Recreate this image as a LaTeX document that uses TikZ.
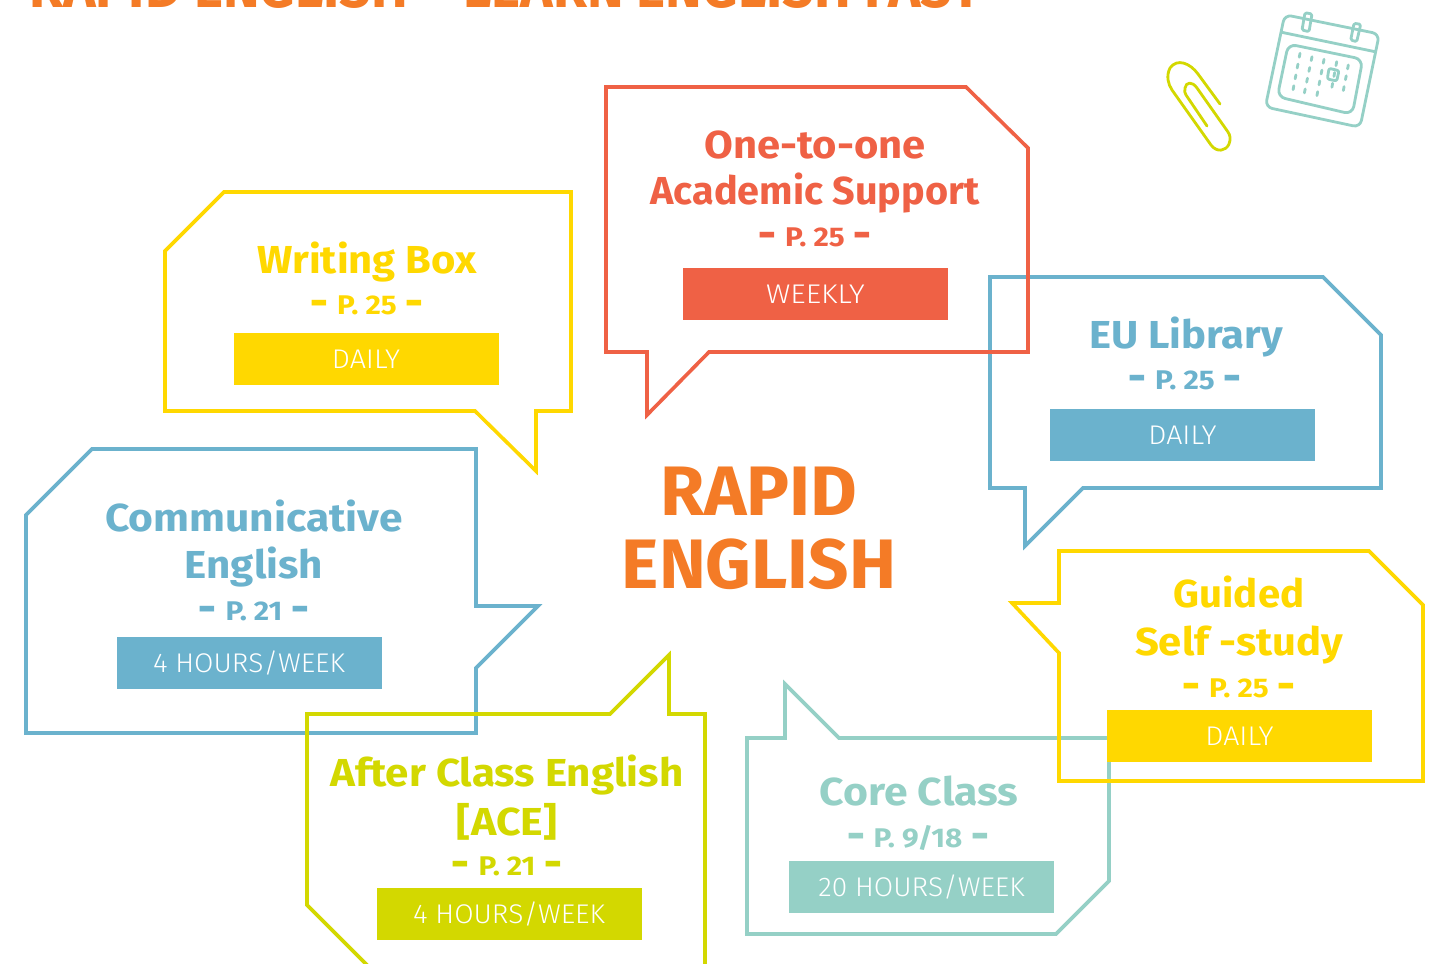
\documentclass[tikz,border=0pt]{standalone}
\usepackage{fontspec}
\setmainfont{Fira Sans}
\definecolor{cred}{HTML}{EF6145}
\definecolor{cyel}{HTML}{FFD800}
\definecolor{cblue}{HTML}{6BB2CD}
\definecolor{cteal}{HTML}{95D0C6}
\definecolor{clime}{HTML}{D3D800}
\definecolor{corange}{HTML}{F47B26}
\newcommand{\squeeze}[2]{\scalebox{#1}[1]{#2}}
\newcommand{\lightface}{\fontspec{Fira Sans Light}}
\newcommand{\prefdash}{\raisebox{-3pt}{\scalebox{1.12}[1.7]{–}}}
\newcommand{\pref}[1]{\prefdash\hspace{10pt}\squeeze{1.1}{#1}\hspace{10pt}\prefdash}
\tikzset{
  x=1pt,y=-1pt,
  bubble/.style={line width=3.6pt,line join=miter,miter limit=4},
  head/.style={font=\fontsize{39}{39}\selectfont\bfseries,inner sep=0pt,anchor=base},
  pageref/.style={font=\fontsize{27}{27}\selectfont\bfseries,inner sep=0pt,anchor=base},
  tag/.style={minimum width=265pt,minimum height=52pt,inner sep=0pt,text=white,font=\fontsize{27}{27}\selectfont\lightface},
  bigword/.style={inner sep=0pt,anchor=base,text=corange,font=\fontsize{70}{70}\selectfont\bfseries},
  iconline/.style={line width=2.8pt,line cap=round,line join=round},
  dots/.style={iconline,cteal,dash pattern=on 4pt off 7pt},
}
\begin{document}
\begin{tikzpicture}
\useasboundingbox (0,0) rectangle (1439,963);
\clip (0,0) rectangle (1439,963);
\fill[white] (0,0) rectangle (1439,963);
\node[inner sep=0pt,anchor=base west,text=corange,font=\fontsize{58}{58}\selectfont\bfseries] (title) at (29,8) {\squeeze{0.952}{RAPID ENGLISH – LEARN ENGLISH FAST}};

% bubbles
\draw[bubble,cyel] (165,251)--(224,192)--(571,192)--(571,411)--(536,411)--(536,471)--(475,411)--(165,411)--cycle;
\draw[bubble,cblue] (26,515)--(92,449)--(476,449)--(476,606)--(538,606)--(476,668)--(476,733)--(26,733)--cycle;
\draw[bubble,cteal] (747,738)--(785,738)--(785,684)--(839,738)--(1109,738)--(1109,881)--(1056,934)--(747,934)--cycle;
\draw[bubble,clime] (307,714)--(610,714)--(669,655)--(669,714)--(705,714)--(705,975)--(377,975)--(307,905)--cycle;
\draw[bubble,cblue] (990,277)--(1323,277)--(1381,335)--(1381,488)--(1083,488)--(1025,546)--(1025,488)--(990,488)--cycle;
\draw[bubble,cred] (606,87)--(966,87)--(1028,148)--(1028,352)--(709,352)--(647,415)--(647,352)--(606,352)--cycle;
\draw[bubble,cyel] (1059,551)--(1369,551)--(1423,605)--(1423,781)--(1059,781)--(1059,653)--(1012,603)--(1059,603)--cycle;

% tags
\node[tag,fill=cred] (t1) at (815.5,294) {\squeeze{1.11}{WEEKLY}};
\node[tag,fill=cyel] (t2) at (366,359) {\squeeze{1.06}{DAILY}};
\node[tag,fill=cblue] (t3) at (1182.5,435) {\squeeze{1.06}{DAILY}};
\node[tag,fill=cblue] (t4) at (249,663) {\squeeze{1.04}{4 HOURS/WEEK}};
\node[tag,fill=cyel] (t5) at (1239.5,736) {\squeeze{1.06}{DAILY}};
\node[tag,fill=cteal] (t6) at (921.5,887) {\squeeze{1.04}{20 HOURS/WEEK}};
\node[tag,fill=clime] (t7) at (509,914) {\squeeze{1.04}{4 HOURS/WEEK}};

% One-to-one
\node[head,text=cred] (a1) at (815,158) {\squeeze{1.07}{One-to-one}};
\node[head,text=cred] (a2) at (815,204.5) {\squeeze{1.015}{Academic Support}};
\node[pageref,text=cred] (a3) at (815,246) {\pref{P. 25}};
% Writing Box
\node[head,text=cyel] (b1) at (367,273) {\squeeze{1.07}{Writing Box}};
\node[pageref,text=cyel] (b2) at (367,314) {\pref{P. 25}};
% EU Library
\node[head,text=cblue] (c1) at (1186,348) {\squeeze{1.07}{EU Library}};
\node[pageref,text=cblue] (c2) at (1185,389) {\pref{P. 25}};
% Communicative
\node[head,text=cblue] (d1) at (254,531) {\squeeze{1.09}{Communicative}};
\node[head,text=cblue] (d2) at (254,578) {\squeeze{1.08}{English}};
\node[pageref,text=cblue] (d3) at (254,620) {\pref{P. 21}};
% Guided
\node[head,text=cyel] (e1) at (1239,607) {\squeeze{1.03}{Guided}};
\node[head,text=cyel] (e2) at (1239,655) {\squeeze{1.07}{Self -study}};
\node[pageref,text=cyel] (e3) at (1239,697) {\pref{P. 25}};
% Core
\node[head,text=cteal] (f1) at (919,805.5) {\squeeze{1.095}{Core Class}};
\node[pageref,text=cteal] (f2) at (918,847) {\pref{P. 9/18}};
% ACE
\node[head,text=clime] (g1) at (507,786) {\squeeze{1.08}{After Class English}};
\node[head,text=clime] (g2) at (507,835) {\squeeze{1.1}{[ACE]}};
\node[pageref,text=clime] (g3) at (507,875) {\pref{P. 21}};

% centre
\node[bigword] (m1) at (759,515) {\squeeze{1.025}{RAPID}};
\node[bigword] (m2) at (759,588) {\squeeze{1.01}{ENGLISH}};

% paperclip
\draw[iconline,clime] (1220,104) -- (1198,74) .. controls (1190,63) and (1177,58) .. (1170,68) .. controls (1166,76) and (1168,84) .. (1172,90) -- (1211,145) .. controls (1217,153) and (1226,151) .. (1229,144) .. controls (1231,139) and (1230,135) .. (1228,132) -- (1197,88) .. controls (1192,81) and (1186,82) .. (1185,88) .. controls (1184,91) and (1185,93) .. (1186,95) -- (1207,126);

% calendar
\draw[iconline,cteal,rounded corners=7pt] (1284.7,14.7) -- (1379.3,34) -- (1360,127.3) -- (1265.3,107) -- cycle;
\draw[iconline,cteal] (1281.7,32.3) -- (1375,51.7);
\draw[iconline,cteal,rounded corners=8pt] (1288.3,44) -- (1362.7,59.3) -- (1352.3,114.3) -- (1277.3,96.7) -- cycle;
\draw[iconline,cteal,rounded corners=1.5pt] (1305,12.7) -- (1312,14) -- (1309,31.7) -- (1302,30) -- cycle;
\draw[iconline,cteal,rounded corners=1.5pt] (1354,23.3) -- (1360.7,24.3) -- (1356.7,41.7) -- (1350.7,40) -- cycle;
\draw[dots] (1300,53.3) -- (1292.7,91.7);
\draw[dots] (1312,56.7) -- (1304.3,93.3);
\draw[dots] (1324,59.3) -- (1316.7,96.7);
\draw[dots] (1336.7,61.7) -- (1331.7,88.3);
\draw[dots] (1348.3,65) -- (1343.3,90.7);
\draw[iconline,cteal,rounded corners=2pt] (1329,68.3) -- (1339,70.7) -- (1336.7,81) -- (1327.3,79) -- cycle;
\end{tikzpicture}
\end{document}
